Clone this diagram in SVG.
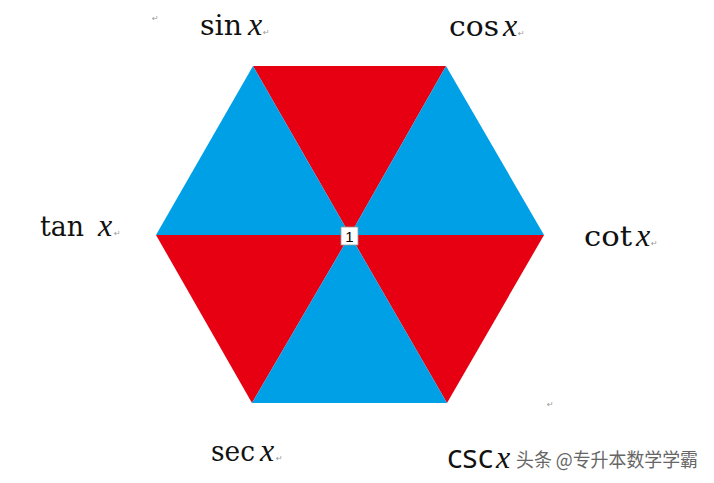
<svg xmlns="http://www.w3.org/2000/svg" width="714" height="483" viewBox="0 0 714 483">
<style>
.red{fill:#E60012}
.blue{fill:#00A0E6}
.lbl{font-family:"DejaVu Serif","Liberation Serif",serif;font-size:28px;fill:#111}
.var{font-family:"Liberation Serif","DejaVu Serif",serif;font-style:italic;font-size:32px;fill:#111}
.ret{font-family:"DejaVu Sans",sans-serif;font-size:8px;fill:#999}
.wm{font-family:"Noto Sans CJK SC","Noto Sans",sans-serif;font-size:19px;fill:#666}
</style>
<rect width="714" height="483" fill="#fff"/>
<g id="hexagon">
  <polygon class="red" points="253,66 446,66 350,235"/>
  <polygon class="blue" points="253,66 156,235 350,235"/>
  <polygon class="blue" points="446,66 544,235 350,235"/>
  <polygon class="red" points="156,235 252,403 350,235"/>
  <polygon class="red" points="544,235 447,403 350,235"/>
  <polygon class="blue" points="252,403 447,403 350,235"/>
</g>
<g id="center-label">
  <rect x="341" y="227" width="17" height="18" fill="#fff" stroke="#999" stroke-width="0.8"/>
  <text x="349.5" y="241.5" text-anchor="middle" font-family="Liberation Sans,Arial,sans-serif" font-size="15" fill="#000">1</text>
</g>
<g id="label-sin">
  <text class="lbl" x="200" y="35" textLength="42" lengthAdjust="spacingAndGlyphs">sin</text>
  <text class="var" x="248" y="35">x</text>
  <text class="ret" x="263" y="35">↵</text>
</g>
<g id="label-cos">
  <text class="lbl" x="449" y="36" textLength="50" lengthAdjust="spacingAndGlyphs">cos</text>
  <text class="var" x="503" y="36">x</text>
  <text class="ret" x="518" y="36">↵</text>
</g>
<g id="label-tan">
  <text class="lbl" x="40" y="236" textLength="44" lengthAdjust="spacingAndGlyphs">tan</text>
  <text class="var" x="98" y="236">x</text>
  <text class="ret" x="114" y="236">↵</text>
</g>
<g id="label-cot">
  <text class="lbl" x="584" y="246" textLength="48" lengthAdjust="spacingAndGlyphs">cot</text>
  <text class="var" x="636" y="246">x</text>
  <text class="ret" x="651" y="246">↵</text>
</g>
<g id="label-sec">
  <text class="lbl" x="211" y="461" textLength="44" lengthAdjust="spacingAndGlyphs">sec</text>
  <text class="var" x="260" y="461">x</text>
  <text class="ret" x="276" y="461">↵</text>
</g>
<g id="label-csc">
  <text x="447" y="468" font-family="Open Sans,DejaVu Sans,sans-serif" font-weight="400" font-size="32" fill="#111" textLength="46" lengthAdjust="spacingAndGlyphs">csc</text>
  <text class="var" x="496" y="468" font-size="34">x</text>
  <text class="wm" x="516" y="467" textLength="182" lengthAdjust="spacingAndGlyphs">头条 @专升本数学学霸</text>
</g>
<g id="marks">
  <text class="ret" x="152" y="21">↵</text>
  <text class="ret" x="547" y="407">↵</text>
</g>
</svg>
